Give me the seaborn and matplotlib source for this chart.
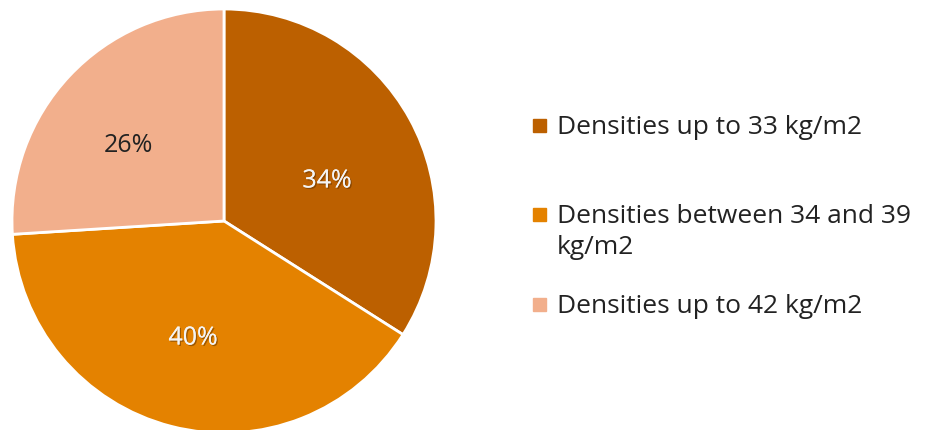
import matplotlib
matplotlib.use("Agg")
import matplotlib.pyplot as plt
import seaborn as sns
import numpy as np
from matplotlib.patches import Rectangle
import matplotlib.patheffects as pe

categories = ["Densities up to 33 kg/m2", "Densities between 34 and 39\nkg/m2", "Densities up to 42 kg/m2"]
shares = [34, 40, 26]
pct_labels = ["34%", "40%", "26%"]
colors = ["#BC6000", "#E48200", "#F2AF8C"]
label_colors = ["#F4F4F4", "#F4F4F4", "#222222"]

sns.set_theme(style="white")
plt.rcParams['font.family'] = ['Open Sans', 'DejaVu Sans']

fig = plt.figure(figsize=(9.35, 4.3), dpi=100)
ax = fig.add_axes([12/935, -3/430, 424/935, 424/430])
wedges, texts = ax.pie(shares, colors=colors, startangle=90, counterclock=False,
                       wedgeprops=dict(edgecolor="white", linewidth=2))
ax.set_xlim(-1, 1)
ax.set_ylim(-1, 1)
ax.set_aspect("equal")

# percentage label positions (axes data units, as placed in the reference)
label_pos = [(0.486, 0.189), (-0.146, -0.552), (-0.453, 0.354)]
for (x, y), lab, c in zip(label_pos, pct_labels, label_colors):
    effects = [pe.withSimplePatchShadow(offset=(1, -1), shadow_rgbFace="#5a3000", alpha=0.5), pe.Normal()] if c != "#222222" else []
    ax.text(x, y, lab, ha="center", va="center", fontsize=18, color=c,
            path_effects=effects)

# manual legend (baselines in px from top)
legend_baselines = [134, 223, 313]
line_step = 31
for yb, lab, c in zip(legend_baselines, categories, colors):
    fig.patches.append(Rectangle((533/935, 1 - (yb - 2)/430), 13/935, 13/430,
                                 transform=fig.transFigure, color=c, figure=fig))
    for i, line in enumerate(lab.split("\n")):
        fig.text(557/935, 1 - (yb + i * line_step)/430, line, ha="left",
                 va="baseline", fontsize=19, color="#222222")

fig.savefig("out.png", dpi=100)
